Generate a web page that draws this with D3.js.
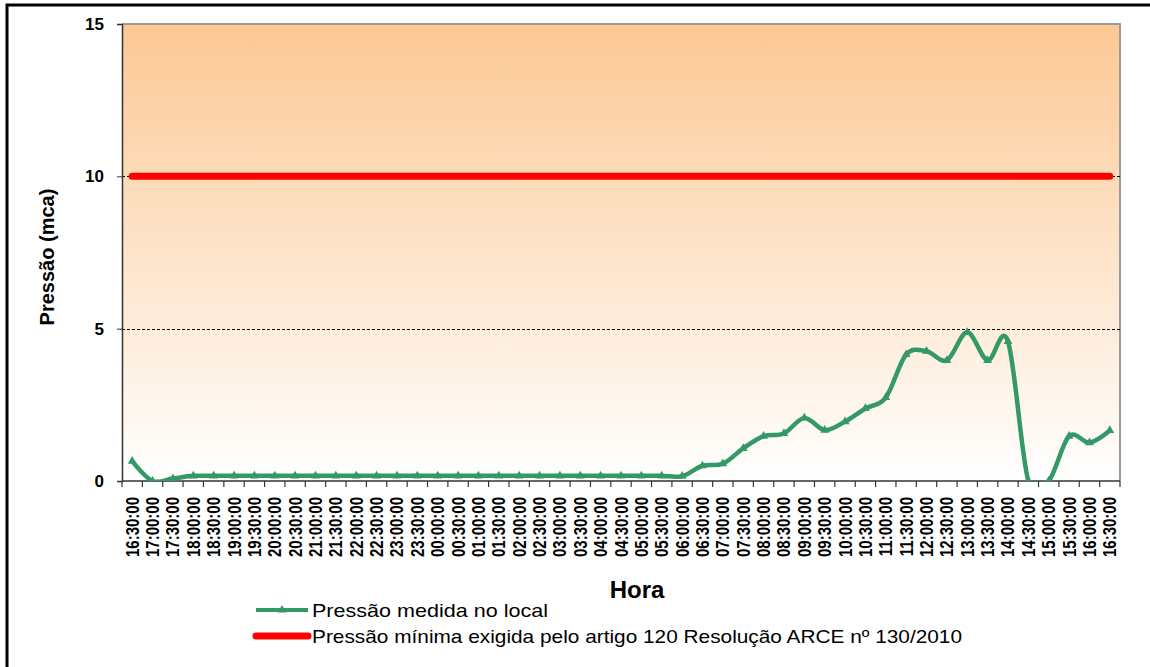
<!DOCTYPE html>
<html>
<head>
<meta charset="utf-8">
<script src="https://cdn.jsdelivr.net/npm/d3@7/dist/d3.min.js"></script>
<style>
  html, body { margin: 0; padding: 0; background: #fff; }
  svg { display: block; font-family: "Liberation Sans", Arial, sans-serif; }
</style>
</head>
<body>
<svg id="chart" width="1150" height="667"></svg>
<script>
// Horários de leitura (intervalos de 30 minutos)
const horas = [
  "16:30:00","17:00:00","17:30:00","18:00:00","18:30:00","19:00:00","19:30:00",
  "20:00:00","20:30:00","21:00:00","21:30:00","22:00:00","22:30:00","23:00:00",
  "23:30:00","00:00:00","00:30:00","01:00:00","01:30:00","02:00:00","02:30:00",
  "03:00:00","03:30:00","04:00:00","04:30:00","05:00:00","05:30:00","06:00:00",
  "06:30:00","07:00:00","07:30:00","08:00:00","08:30:00","09:00:00","09:30:00",
  "10:00:00","10:30:00","11:00:00","11:30:00","12:00:00","12:30:00","13:00:00",
  "13:30:00","14:00:00","14:30:00","15:00:00","15:30:00","16:00:00","16:30:00"
];

// Pressão medida no local (mca)
const pressaoMedida = [
  0.65, 0.00, 0.08, 0.17, 0.17, 0.17, 0.17,
  0.17, 0.17, 0.17, 0.17, 0.17, 0.17, 0.17,
  0.17, 0.17, 0.17, 0.17, 0.17, 0.17, 0.17,
  0.17, 0.17, 0.17, 0.17, 0.17, 0.17, 0.16,
  0.50, 0.57, 1.07, 1.47, 1.56, 2.07, 1.67,
  1.95, 2.38, 2.74, 4.15, 4.26, 3.96, 4.88,
  3.96, 4.58, 0.00, 0.00, 1.47, 1.26, 1.66
];

// Pressão mínima exigida (mca)
const pressaoMinima = 10;

const yTicks = [0, 5, 10, 15];
const gridValues = [5, 10];

const legendas = [
  "Pressão medida no local",
  "Pressão mínima exigida pelo artigo 120 Resolução ARCE nº 130/2010"
];

const svg = d3.select("#chart");
const plot = { left: 122, right: 1120, top: 24, bottom: 481 };

// The day wraps around, so the same clock label appears twice: index the bands by position
const idx = d3.range(horas.length);
const x = d3.scaleBand().domain(idx).range([plot.left, plot.right]).padding(0);
const y = d3.scaleLinear().domain([0, 15]).range([plot.bottom, plot.top]);
const cx = i => x(i) + x.bandwidth() / 2;

// Outer frame
svg.append("path")
  .attr("d", "M7,700 L7,5 L1160,5")
  .attr("fill", "none").attr("stroke", "#000").attr("stroke-width", 3);

// Background gradient of the plot area
const defs = svg.append("defs");
const grad = defs.append("linearGradient").attr("id", "bg")
  .attr("x1", 0).attr("y1", 0).attr("x2", 0).attr("y2", 1);
grad.append("stop").attr("offset", "0%").attr("stop-color", "#fcc894");
grad.append("stop").attr("offset", "100%").attr("stop-color", "#ffffff");

defs.append("clipPath").attr("id", "clip")
  .append("rect")
  .attr("x", plot.left).attr("y", plot.top)
  .attr("width", plot.right - plot.left).attr("height", plot.bottom - plot.top);

svg.append("rect")
  .attr("x", plot.left).attr("y", plot.top)
  .attr("width", plot.right - plot.left).attr("height", plot.bottom - plot.top)
  .attr("fill", "url(#bg)");

// Top and right borders
svg.append("path")
  .attr("d", `M${plot.left},${plot.top} L${plot.right},${plot.top} L${plot.right},${plot.bottom}`)
  .attr("fill", "none").attr("stroke", "#9a9a9a").attr("stroke-width", 2);

// Dashed gridlines
svg.append("g").selectAll("line").data(gridValues).join("line")
  .attr("x1", plot.left).attr("x2", plot.right)
  .attr("y1", d => Math.round(y(d)) + 0.5).attr("y2", d => Math.round(y(d)) + 0.5)
  .attr("stroke", "#000").attr("stroke-width", 1).attr("stroke-dasharray", "3,2");

// Y axis
const yAxis = svg.append("g")
  .attr("transform", `translate(${plot.left},0)`)
  .call(d3.axisLeft(y).tickValues(yTicks).tickSize(5).tickPadding(13).tickFormat(d3.format("d")));
yAxis.select(".domain").attr("stroke", "#333").attr("stroke-width", 1.5);
yAxis.selectAll(".tick line").attr("stroke", "#333");
yAxis.selectAll("text")
  .attr("fill", "#000").attr("font-size", 17).attr("font-weight", "bold")
  .attr("font-family", "'Liberation Sans', Arial, sans-serif");

// X axis: ticks on category boundaries, labels centred in each band
const xg = svg.append("g").attr("transform", `translate(0,${plot.bottom})`);
xg.append("line")
  .attr("x1", plot.left).attr("x2", plot.right)
  .attr("stroke", "#333").attr("stroke-width", 1.5);
const boundaries = idx.map(i => x(i)).concat([plot.right]);
xg.selectAll("line.tk").data(boundaries).join("line").attr("class", "tk")
  .attr("x1", d => d).attr("x2", d => d).attr("y1", 0).attr("y2", 6)
  .attr("stroke", "#333").attr("stroke-width", 1.2);
xg.selectAll("text").data(idx).join("text")
  .attr("transform", i => `translate(${cx(i) + 6.5},16) rotate(-90) scale(1,1.25)`)
  .attr("text-anchor", "end")
  .attr("font-size", 15).attr("font-weight", "bold").attr("fill", "#000")
  .text(i => horas[i]);

// Red reference line
svg.append("line")
  .attr("x1", cx(0)).attr("x2", cx(idx.length - 1))
  .attr("y1", y(pressaoMinima)).attr("y2", y(pressaoMinima))
  .attr("stroke", "#ff0000").attr("stroke-width", 7).attr("stroke-linecap", "round");

// Measured pressure series (smoothed, clipped to the plot area)
const series = idx.map(i => ({ i, v: pressaoMedida[i] }));
const line = d3.line().x(d => cx(d.i)).y(d => y(d.v)).curve(d3.curveCatmullRom.alpha(0));
const green = "#339966";
const g = svg.append("g").attr("clip-path", "url(#clip)");
g.append("path").datum(series)
  .attr("d", line).attr("fill", "none")
  .attr("stroke", green).attr("stroke-width", 4.5).attr("stroke-linejoin", "round");
const tri = d3.symbol().type(d3.symbolTriangle).size(34);
g.selectAll("path.mk").data(series).join("path").attr("class", "mk")
  .attr("transform", d => `translate(${cx(d.i)},${y(d.v)})`)
  .attr("d", tri).attr("fill", green);

// Axis titles
svg.append("text")
  .attr("transform", "translate(54,257) rotate(-90)")
  .attr("text-anchor", "middle").attr("font-size", 20).attr("font-weight", "bold")
  .text("Pressão (mca)");
svg.append("text")
  .attr("x", 637).attr("y", 598)
  .attr("text-anchor", "middle").attr("font-size", 24).attr("font-weight", "bold")
  .text("Hora");

// Legend
const leg = svg.append("g");
leg.append("line").attr("x1", 256).attr("x2", 308).attr("y1", 610).attr("y2", 610)
  .attr("stroke", green).attr("stroke-width", 4);
leg.append("path").attr("transform", "translate(282,610)").attr("d", tri).attr("fill", green);
leg.append("line").attr("x1", 256).attr("x2", 308).attr("y1", 636).attr("y2", 636)
  .attr("stroke", "#ff0000").attr("stroke-width", 7).attr("stroke-linecap", "round");
leg.append("text").attr("x", 312).attr("y", 617)
  .attr("font-size", 19).attr("fill", "#000")
  .attr("textLength", 236).attr("lengthAdjust", "spacingAndGlyphs")
  .text(legendas[0]);
leg.append("text").attr("x", 312).attr("y", 643)
  .attr("font-size", 19).attr("fill", "#000")
  .attr("textLength", 650).attr("lengthAdjust", "spacingAndGlyphs")
  .text(legendas[1]);
</script>
</body>
</html>
